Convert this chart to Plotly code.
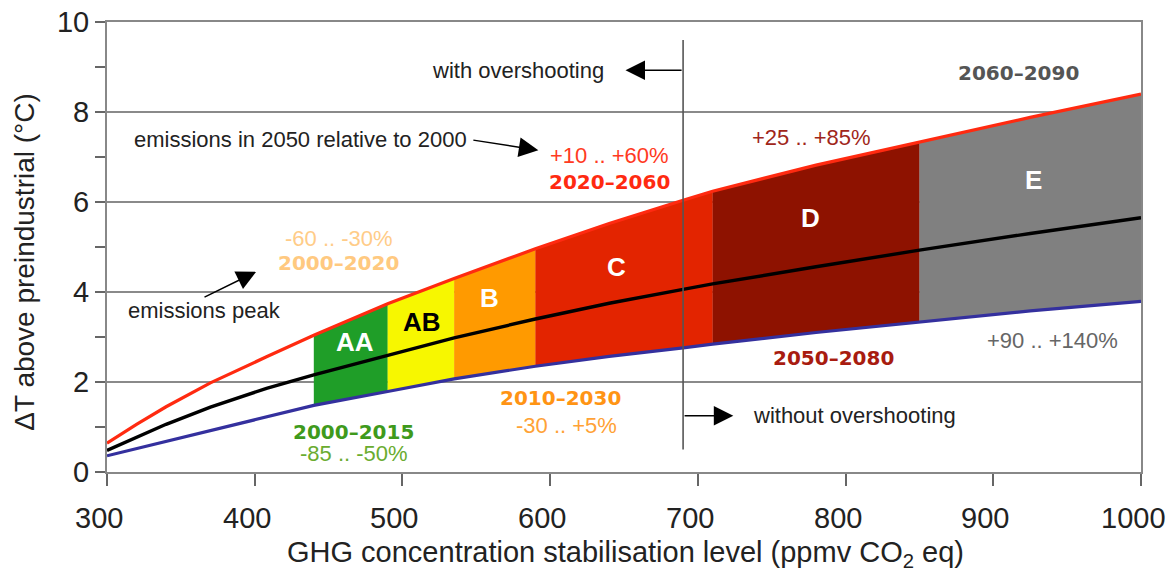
import plotly.graph_objects as go

# ---------------- data ----------------
ppm = [300, 320, 340, 370, 408, 440, 490, 535, 590, 640, 690, 710, 780, 850, 925, 1000]
upper_T = [0.64, 1.06, 1.45, 1.98, 2.56, 3.04, 3.74, 4.30, 4.96, 5.52, 6.04, 6.24, 6.82, 7.34, 7.88, 8.40]
mid_T = [0.48, 0.78, 1.06, 1.44, 1.86, 2.16, 2.60, 2.98, 3.40, 3.75, 4.06, 4.18, 4.56, 4.93, 5.30, 5.65]
lower_T = [0.36, 0.52, 0.68, 0.92, 1.22, 1.48, 1.79, 2.07, 2.35, 2.57, 2.76, 2.84, 3.10, 3.34, 3.58, 3.79]

category_names = ["AA", "AB", "B", "C", "D", "E"]
category_start = [440, 490, 535, 590, 710, 850]
category_end = [490, 535, 590, 710, 850, 1000]
category_colors = ["#1f9e28", "#f7f700", "#ff9a00", "#e32400", "#8e1200", "#808080"]

x_ticks = [300, 400, 500, 600, 700, 800, 900, 1000]
y_ticks = [0, 2, 4, 6, 8, 10]
y_minor = [1, 3, 5, 7, 9]

overshoot_ppm = 690

SANS = "Liberation Sans, Arial, sans-serif"
BOLD = "DejaVu Sans, Verdana, sans-serif"

fig = go.Figure()

# filled category bands between lower and upper curves
for name, xs, xe, col in zip(category_names, category_start, category_end, category_colors):
    idx = [i for i, p in enumerate(ppm) if xs <= p <= xe]
    px = [ppm[i] for i in idx]
    top = [upper_T[i] for i in idx]
    bot = [lower_T[i] for i in idx]
    fig.add_trace(go.Scatter(x=px + px[::-1], y=top + bot[::-1], fill="toself",
                             fillcolor=col, mode="lines", line=dict(width=0.5, color=col),
                             hoverinfo="skip", showlegend=False))

fig.add_trace(go.Scatter(x=ppm, y=upper_T, mode="lines", line=dict(color="#ff2a10", width=3.2),
                         showlegend=False))
fig.add_trace(go.Scatter(x=ppm, y=lower_T, mode="lines", line=dict(color="#34309e", width=3.2),
                         showlegend=False))
fig.add_trace(go.Scatter(x=ppm, y=mid_T, mode="lines", line=dict(color="#000000", width=3.4),
                         showlegend=False))

# vertical separator
fig.add_shape(type="line", x0=overshoot_ppm, x1=overshoot_ppm, y0=0.5, y1=9.6,
              line=dict(color="#555555", width=1.6))

ann = []

def txt(x, y, s, color, size=22, font=SANS, xanchor="center", bold=False):
    ann.append(dict(x=x, y=y, xref="x", yref="y", text=("<b>%s</b>" % s) if bold else s,
                    showarrow=False, xanchor=xanchor, yanchor="middle",
                    font=dict(family=font, size=size, color=color)))

def arrow(x_tail, y_tail, x_tip, y_tip):
    ann.append(dict(x=x_tip, y=y_tip, ax=x_tail, ay=y_tail, xref="x", yref="y",
                    axref="x", ayref="y", text="", showarrow=True, arrowhead=2,
                    arrowsize=2.6, arrowwidth=1.5, arrowcolor="#000000"))

# arrows
arrow(overshoot_ppm, 8.93, 651, 8.93)
arrow(overshoot_ppm, 1.25, 724, 1.25)
arrow(547, 7.38, 592, 7.15)
arrow(365, 3.87, 401, 4.45)

# plain annotations
txt(638, 8.93, "with overshooting", "#222222", xanchor="right")
txt(736, 1.25, "without overshooting", "#222222", xanchor="left")
txt(317, 7.38, "emissions in 2050 relative to 2000", "#222222", size=22, xanchor="left")
txt(313, 3.58, "emissions peak", "#222222", size=22, xanchor="left")

txt(457, 5.20, "-60 .. -30%", "#ffcc88")
txt(457, 4.64, "2000–2020", "#ffc980", size=20, font=BOLD, bold=True)
txt(640, 7.04, "+10 .. +60%", "#ff3a22")
txt(640, 6.44, "2020–2060", "#ff2a10", size=20, font=BOLD, bold=True)
txt(777, 7.44, "+25 .. +85%", "#a0261a")
txt(917, 8.87, "2060–2090", "#555555", size=20, font=BOLD, bold=True)
txt(467, 0.88, "2000–2015", "#3f9a1c", size=20, font=BOLD, bold=True)
txt(467, 0.41, "-85 .. -50%", "#6aac30")
txt(607, 1.64, "2010–2030", "#ff9414", size=20, font=BOLD, bold=True)
txt(611, 1.04, "-30 .. +5%", "#ffa236")
txt(792, 2.53, "2050–2080", "#a81c10", size=20, font=BOLD, bold=True)
txt(940, 2.93, "+90 .. +140%", "#666666")

# category labels
label_pos = {"AA": (468, 2.89, "#ffffff"), "AB": (513, 3.33, "#000000"), "B": (559, 3.87, "#ffffff"),
             "C": (645, 4.56, "#ffffff"), "D": (776, 5.64, "#ffffff"), "E": (927, 6.49, "#ffffff")}
for name in category_names:
    lx, ly, lc = label_pos[name]
    txt(lx, ly, name, lc, size=26, bold=True)

# x tick labels (drawn slightly left of their ticks, as in the original)
for v in x_ticks:
    ann.append(dict(x=v, y=0, xref="x", yref="y", text=str(v), showarrow=False,
                    xanchor="center", yanchor="middle", xshift=-8, yshift=-46,
                    font=dict(family=SANS, size=29, color="#222222")))

# axis titles
ann.append(dict(x=0.501, y=-0.183, xref="paper", yref="paper", showarrow=False,
                text="GHG concentration stabilisation level (ppmv CO<sub>2</sub> eq)",
                xanchor="center", yanchor="middle", font=dict(family=SANS, size=29, color="#222222")))
ann.append(dict(x=-0.08, y=0.468, xref="paper", yref="paper", showarrow=False, textangle=-90,
                text="ΔT above preindustrial (°C)", xanchor="center", yanchor="middle",
                font=dict(family=SANS, size=28, color="#222222")))

# the page body adds an 8 px offset; size the figure so the plot lands where the original's does
fig.update_layout(
    width=1166, height=566,
    margin=dict(l=99, r=33, t=14, b=102),
    paper_bgcolor="white", plot_bgcolor="white",
    annotations=ann,
    showlegend=False,
    xaxis=dict(range=[300, 1000], tickvals=x_ticks, ticks="outside", ticklen=12, tickwidth=1.5,
               tickcolor="#666666", showline=True, linecolor="#888888", linewidth=2, mirror=True,
               showgrid=False, zeroline=False, showticklabels=False, automargin=False),
    yaxis=dict(range=[0, 10], tickvals=y_ticks, ticks="outside", ticklen=10, tickwidth=1.5,
               tickcolor="#666666", showline=True, linecolor="#888888", linewidth=2, mirror=True,
               showgrid=True, gridcolor="#8a8a8a", gridwidth=1.5, zeroline=False,
               ticklabelstandoff=0, automargin=False, ticklabeloverflow="allow",
               minor=dict(tickvals=y_minor, ticks="outside", ticklen=10, tickwidth=1.5,
                          tickcolor="#666666", showgrid=False),
               tickfont=dict(family=SANS, size=29, color="#222222")),
)

fig.write_html("out.html")
